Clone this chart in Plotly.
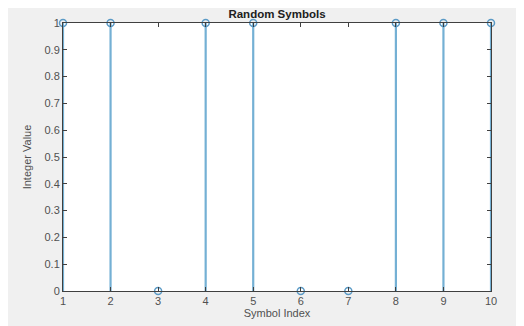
import plotly.graph_objects as go

symbol_index = [1, 2, 3, 4, 5, 6, 7, 8, 9, 10]
integer_value = [1, 1, 0, 1, 1, 0, 0, 1, 1, 1]
x_ticks = [1, 2, 3, 4, 5, 6, 7, 8, 9, 10]
y_ticks = [0, 0.1, 0.2, 0.3, 0.4, 0.5, 0.6, 0.7, 0.8, 0.9, 1]
y_tick_labels = ["0", "0.1", "0.2", "0.3", "0.4", "0.5", "0.6", "0.7", "0.8", "0.9", "1"]

stem_color = "#74b0d4"

# stems built from data
sx, sy = [], []
for xv, yv in zip(symbol_index, integer_value):
    sx += [xv, xv, None]
    sy += [0, yv, None]

fig = go.Figure()
fig.add_trace(go.Scatter(x=sx, y=sy, mode="lines",
                         line=dict(color=stem_color, width=2.2),
                         hoverinfo="skip", showlegend=False))
fig.add_trace(go.Scatter(x=symbol_index, y=integer_value, mode="markers",
                         marker=dict(symbol="circle-open", size=7,
                                     color="#5a9ac6", line=dict(width=1.5)),
                         showlegend=False, cliponaxis=False))

# page body has an 8px margin, so the figure is 516x318 placed at (8, 8)
L, R, T, B = 55, 33, 15, 35
W, H = 516, 318
pw = W - L - R

axis_font = dict(family="Liberation Sans, Arial, sans-serif", size=11, color="#505050")

fig.update_layout(
    width=W, height=H,
    margin=dict(l=L, r=R, t=T, b=B, autoexpand=False),
    paper_bgcolor="#f0f0f0", plot_bgcolor="white",
    title=dict(text="<b>Random Symbols</b>", x=(L + pw / 2) / W, xanchor="center",
               y=1 - 6 / H, yanchor="middle", automargin=False,
               font=dict(family="Liberation Sans, Arial, sans-serif", size=11.5, color="#202020")),
    xaxis=dict(range=[1, 10], tickvals=x_ticks, ticktext=[str(v) for v in x_ticks],
               ticks="inside", ticklen=4, tickcolor="#404040", automargin=False,
               showline=True, linecolor="#404040", linewidth=1, mirror="ticks",
               showgrid=False, zeroline=False, tickfont=axis_font,
               title=dict(text="Symbol Index", font=axis_font, standoff=1)),
    yaxis=dict(range=[0, 1], tickvals=y_ticks, ticktext=y_tick_labels,
               ticks="inside", ticklen=4, tickcolor="#404040", automargin=False,
               showline=True, linecolor="#404040", linewidth=1, mirror="ticks",
               showgrid=False, zeroline=False, tickfont=axis_font,
               title=dict(text="Integer Value", font=axis_font, standoff=10)),
)

fig.write_html("out.html")
